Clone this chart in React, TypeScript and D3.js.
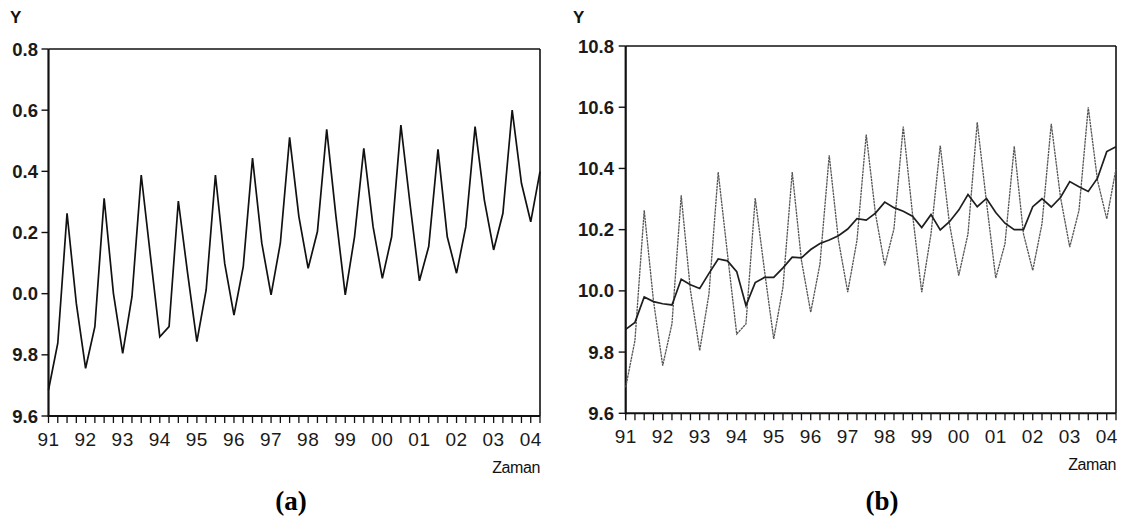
import React from "react";
import * as d3 from "d3";

// Quarterly series 1991Q1 .. 2004Q2
const startYear = 1991;
const seriesY: number[] = [
  9.685, 9.838, 10.263, 9.968,
  9.756, 9.892, 10.312, 10.001,
  9.805, 9.99, 10.388, 10.121,
  9.859, 9.892, 10.303, 10.067,
  9.843, 10.012, 10.388, 10.099,
  9.93, 10.088, 10.443, 10.165,
  9.996, 10.165, 10.511, 10.252,
  10.083, 10.203, 10.537, 10.252,
  9.996, 10.186, 10.475, 10.219,
  10.05, 10.186, 10.551, 10.29,
  10.042, 10.154, 10.472, 10.186,
  10.067, 10.219, 10.546, 10.306,
  10.143, 10.263, 10.6, 10.361,
  10.235, 10.399,
];
const seriesTrend: number[] = [
  9.874, 9.897, 9.98, 9.965,
  9.958, 9.954, 10.038, 10.02,
  10.008, 10.057, 10.104, 10.098,
  10.063, 9.952, 10.027, 10.044,
  10.044, 10.075, 10.11, 10.108,
  10.135, 10.155, 10.166, 10.18,
  10.202, 10.236, 10.231, 10.254,
  10.29, 10.272, 10.26, 10.244,
  10.207, 10.249, 10.199, 10.226,
  10.264, 10.315, 10.275, 10.302,
  10.256, 10.221, 10.2, 10.2,
  10.275, 10.301, 10.274, 10.305,
  10.357, 10.34, 10.325, 10.368,
  10.455, 10.471,
];
const yTickValues: number[] = [9.6, 9.8, 10.0, 10.2, 10.4, 10.6, 10.8];
const yTickLabelsA: string[] = ["9.6", "9.8", "0.0", "0.2", "0.4", "0.6", "0.8"];
const yTickLabelsB: string[] = ["9.6", "9.8", "10.0", "10.2", "10.4", "10.6", "10.8"];
const xTickYears: number[] = [1991, 1992, 1993, 1994, 1995, 1996, 1997, 1998, 1999, 2000, 2001, 2002, 2003, 2004];
const xTickLabels: string[] = ["91", "92", "93", "94", "95", "96", "97", "98", "99", "00", "01", "02", "03", "04"];

const FONT = "'Liberation Sans', Arial, sans-serif";

type PanelProps = {
  x0: number; x1: number; yTop: number; yBot: number;
  yLabels: string[]; yLabelX: number; yLetterX: number;
  showTrend: boolean; caption: string; captionX: number;
};

function Panel(p: PanelProps) {
  const tOf = (i: number) => startYear + i / 4;
  const tEnd = tOf(seriesY.length - 1);
  const x = d3.scaleLinear().domain([startYear, tEnd]).range([p.x0, p.x1]);
  const y = d3.scaleLinear().domain([9.6, 10.8]).range([p.yBot, p.yTop]);
  const line = d3.line<number>().x((_, i) => x(tOf(i))).y((v) => y(v));
  const quarterTicks = d3.range(0, seriesY.length).map(tOf);

  return (
    <g>
      <text x={p.yLetterX} y={23} fontFamily={FONT} fontSize={17} fontWeight="bold" fill="#111">Y</text>
      {/* frame */}
      <line x1={p.x0} x2={p.x1} y1={p.yTop} y2={p.yTop} stroke="#111" strokeWidth={1.6} />
      <line x1={p.x1} x2={p.x1} y1={p.yTop} y2={p.yBot} stroke="#111" strokeWidth={1.6} />
      <line x1={p.x0} x2={p.x0} y1={p.yTop} y2={p.yBot + 1} stroke="#111" strokeWidth={2.2} />
      <line x1={p.x0} x2={p.x1} y1={p.yBot} y2={p.yBot} stroke="#111" strokeWidth={2} />
      {/* y ticks */}
      {yTickValues.map((v, k) => (
        <g key={"y" + k}>
          <line x1={p.x0 - 7} x2={p.x0} y1={y(v)} y2={y(v)} stroke="#111" strokeWidth={1.4} />
          <text x={p.yLabelX} y={y(v) + 6.5} textAnchor="end" fontFamily={FONT} fontSize={18.5} fontWeight="bold" fill="#1a1a1a">
            {p.yLabels[k]}
          </text>
        </g>
      ))}
      {/* x ticks */}
      {quarterTicks.map((t, k) => (
        <line key={"q" + k} x1={x(t)} x2={x(t)} y1={p.yBot} y2={p.yBot + 7} stroke="#111" strokeWidth={1.3} />
      ))}
      {xTickYears.map((yr, k) => (
        <text key={"xl" + k} x={x(yr)} y={p.yBot + 30} textAnchor="middle" fontFamily={FONT} fontSize={19} fill="#1a1a1a" letterSpacing={0.5}>
          {xTickLabels[k]}
        </text>
      ))}
      <text x={p.x1} y={p.yBot + 57} textAnchor="end" fontFamily={FONT} fontSize={16} fill="#111" letterSpacing={-0.4}>
        Zaman
      </text>
      {/* series */}
      {p.showTrend ? (
        <>
          <path d={line(seriesY) || ""} fill="none" stroke="#555" strokeWidth={1.3} strokeDasharray="2.5,0.7" />
          <path d={line(seriesTrend) || ""} fill="none" stroke="#1e1e1e" strokeWidth={1.7} />
        </>
      ) : (
        <path d={line(seriesY) || ""} fill="none" stroke="#111" strokeWidth={1.7} strokeLinejoin="miter" />
      )}
      <text x={p.captionX} y={510} textAnchor="middle" fontFamily="'Liberation Serif', 'Times New Roman', serif" fontSize={27} fontWeight="bold" fill="#000">
        {p.caption}
      </text>
    </g>
  );
}

export default function App() {
  return (
    <svg width={1124} height={519} style={{ position: "absolute", left: 0, top: 0, background: "#fff" }}>
      <rect x={0} y={0} width={1124} height={519} fill="#fff" />
      <Panel x0={48.5} x1={540} yTop={49} yBot={416} yLabels={yTickLabelsA} yLabelX={38} yLetterX={10}
        showTrend={false} caption="(a)" captionX={291} />
      <Panel x0={625.7} x1={1116} yTop={46} yBot={413.3} yLabels={yTickLabelsB} yLabelX={614} yLetterX={573}
        showTrend={true} caption="(b)" captionX={882} />
    </svg>
  );
}
